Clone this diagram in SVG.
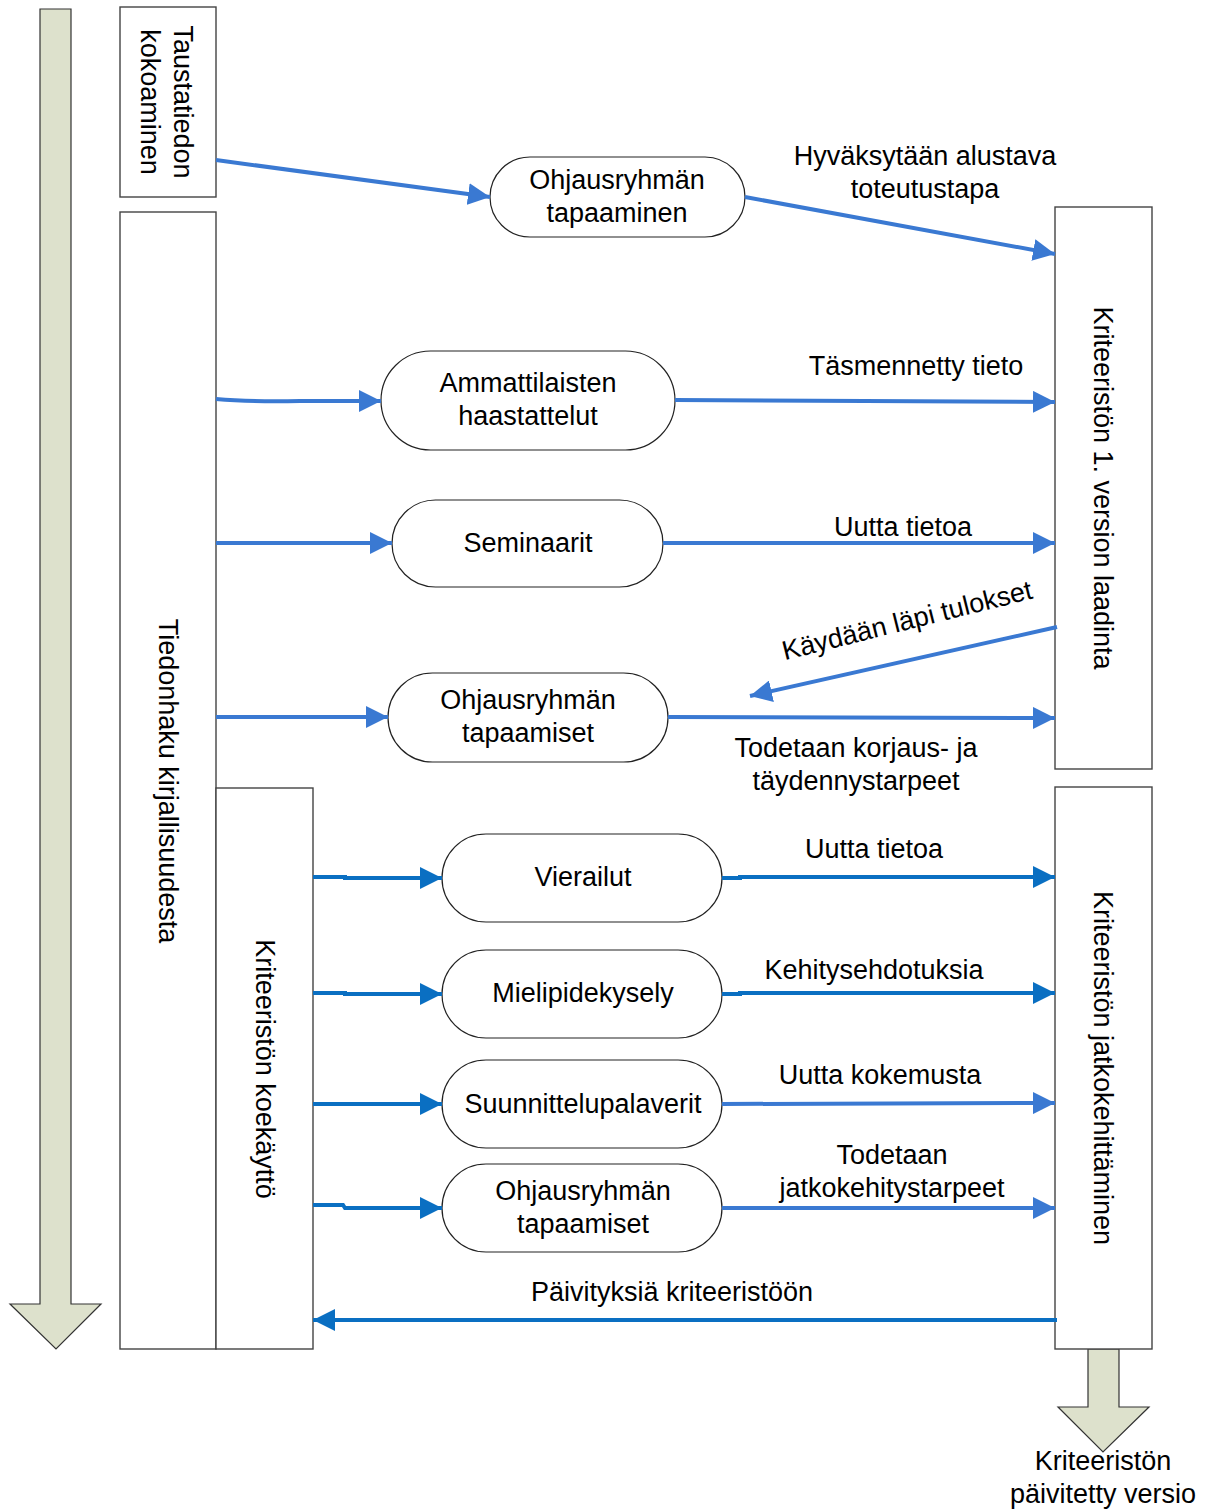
<svg xmlns="http://www.w3.org/2000/svg" width="1207" height="1510" viewBox="0 0 1207 1510">
  <style>
    text { font-family: "Liberation Sans", Arial, sans-serif; font-size: 27px; fill: #000; text-anchor: middle; }
    .box { fill: #fff; stroke: #444; stroke-width: 1.4; }
    .pill { fill: #fff; stroke: #222; stroke-width: 1.2; }
    .flow { fill: #dde1cc; stroke: #333; stroke-width: 1.2; }
    .c1 { fill: none; stroke: #3a79d2; stroke-width: 4; }
    .c2 { fill: none; stroke: #0a6fc2; stroke-width: 4; }
  </style>
  <defs>
    <marker id="h1" viewBox="0 0 10 10" refX="10" refY="5" markerWidth="5.5" markerHeight="5.5" orient="auto" markerUnits="strokeWidth">
      <path d="M0,0 L10,5 L0,10 Z" fill="#3a79d2"/>
    </marker>
    <marker id="h2" viewBox="0 0 10 10" refX="10" refY="5" markerWidth="5.5" markerHeight="5.5" orient="auto" markerUnits="strokeWidth">
      <path d="M0,0 L10,5 L0,10 Z" fill="#0a6fc2"/>
    </marker>
  </defs>

  <!-- time-flow arrow on the left -->
  <path class="flow" d="M40,9 H71 V1304 H101 L56,1349 L10,1304 H40 Z"/>
  <!-- output arrow below the right column -->
  <path class="flow" d="M1088,1349 H1119 V1407 H1149 L1103,1452 L1058,1407 H1088 Z"/>

  <g id="taustatiedon">
    <rect class="box" x="120" y="7" width="96" height="190"/>
    <g transform="translate(168,102) rotate(90)">
      <text x="0" y="-5.5">Taustatiedon</text>
      <text x="0" y="27.5">kokoaminen</text>
    </g>
  </g>
  <g id="tiedonhaku">
    <rect class="box" x="120" y="212" width="96" height="1137"/>
    <text transform="translate(168,781) rotate(90)" x="0" y="9.5">Tiedonhaku kirjallisuudesta</text>
  </g>
  <g id="koekaytto">
    <rect class="box" x="216" y="788" width="97" height="561"/>
    <text transform="translate(265,1069) rotate(90)" x="0" y="9.5">Kriteeristön koekäyttö</text>
  </g>
  <g id="laadinta">
    <rect class="box" x="1055" y="207" width="97" height="562"/>
    <text transform="translate(1103,488) rotate(90)" x="0" y="9.5">Kriteeristön 1. version laadinta</text>
  </g>
  <g id="jatkokehittaminen">
    <rect class="box" x="1055" y="787" width="97" height="562"/>
    <text transform="translate(1103,1068) rotate(90)" x="0" y="9.5">Kriteeristön jatkokehittäminen</text>
  </g>

  <g id="ohjaus1">
    <rect class="pill" x="490" y="157" width="255" height="80" rx="40"/>
    <text x="617" y="189">Ohjausryhmän</text>
    <text x="617" y="222">tapaaminen</text>
  </g>
  <g id="haastattelut">
    <rect class="pill" x="381" y="351" width="294" height="99" rx="49.5"/>
    <text x="528" y="392">Ammattilaisten</text>
    <text x="528" y="425">haastattelut</text>
  </g>
  <g id="seminaarit">
    <rect class="pill" x="392" y="500" width="271" height="87" rx="43.5"/>
    <text x="528" y="552">Seminaarit</text>
  </g>
  <g id="ohjaus2">
    <rect class="pill" x="388" y="673" width="280" height="89" rx="44.5"/>
    <text x="528" y="709">Ohjausryhmän</text>
    <text x="528" y="742">tapaamiset</text>
  </g>
  <g id="vierailut">
    <rect class="pill" x="442" y="834" width="280" height="88" rx="44"/>
    <text x="583" y="886">Vierailut</text>
  </g>
  <g id="mielipidekysely">
    <rect class="pill" x="442" y="950" width="280" height="88" rx="44"/>
    <text x="583" y="1002">Mielipidekysely</text>
  </g>
  <g id="suunnittelupalaverit">
    <rect class="pill" x="442" y="1060" width="280" height="88" rx="44"/>
    <text x="583" y="1113">Suunnittelupalaverit</text>
  </g>
  <g id="ohjaus3">
    <rect class="pill" x="442" y="1164" width="280" height="88" rx="44"/>
    <text x="583" y="1200">Ohjausryhmän</text>
    <text x="583" y="1233">tapaamiset</text>
  </g>

  <g id="connectors">
    <path class="c1" d="M216,160 L490,197" marker-end="url(#h1)"/>
    <path class="c1" d="M745,197 L1055,254" marker-end="url(#h1)"/>
    <path class="c1" d="M216,399 Q250,402 300,401 L381,401" marker-end="url(#h1)"/>
    <path class="c1" d="M675,400 L1055,402" marker-end="url(#h1)"/>
    <path class="c1" d="M216,543 L392,543" marker-end="url(#h1)"/>
    <path class="c1" d="M663,543 L1055,543" marker-end="url(#h1)"/>
    <path class="c1" d="M1057,627 L750,696" marker-end="url(#h1)"/>
    <path class="c1" d="M216,717 L388,717" marker-end="url(#h1)"/>
    <path class="c1" d="M668,717 L1055,718" marker-end="url(#h1)"/>
    <path class="c2" d="M313,877 L345,877 L345,878 L442,878" marker-end="url(#h2)"/>
    <path class="c2" d="M722,878 L740,878 L740,877 L1055,877" marker-end="url(#h2)"/>
    <path class="c2" d="M313,993 L345,993 L345,994 L442,994" marker-end="url(#h2)"/>
    <path class="c2" d="M722,994 L740,994 L740,993 L1055,993" marker-end="url(#h2)"/>
    <path class="c2" d="M313,1104 L345,1104 L345,1104 L442,1104" marker-end="url(#h2)"/>
    <path class="c1" d="M722,1104 L1055,1103" marker-end="url(#h1)"/>
    <path class="c2" d="M313,1205 L343,1205 L345,1208 L442,1208" marker-end="url(#h2)"/>
    <path class="c1" d="M722,1208 L1055,1208" marker-end="url(#h1)"/>
    <path class="c2" d="M1057,1320 L313,1320" marker-end="url(#h2)"/>
  </g>

  <g id="labels">
    <text x="925" y="165">Hyväksytään alustava</text>
    <text x="925" y="198">toteutustapa</text>
    <text x="916" y="375">Täsmennetty tieto</text>
    <text x="903" y="536">Uutta tietoa</text>
    <text transform="translate(907,620) rotate(-14)" x="0" y="9.5">Käydään läpi tulokset</text>
    <text x="856" y="757">Todetaan korjaus- ja</text>
    <text x="856" y="790">täydennystarpeet</text>
    <text x="874" y="858">Uutta tietoa</text>
    <text x="874" y="979">Kehitysehdotuksia</text>
    <text x="880" y="1084">Uutta kokemusta</text>
    <text x="892" y="1164">Todetaan</text>
    <text x="892" y="1197">jatkokehitystarpeet</text>
    <text x="672" y="1301">Päivityksiä kriteeristöön</text>
    <text x="1103" y="1470">Kriteeristön</text>
    <text x="1103" y="1503">päivitetty versio</text>
  </g>
</svg>
